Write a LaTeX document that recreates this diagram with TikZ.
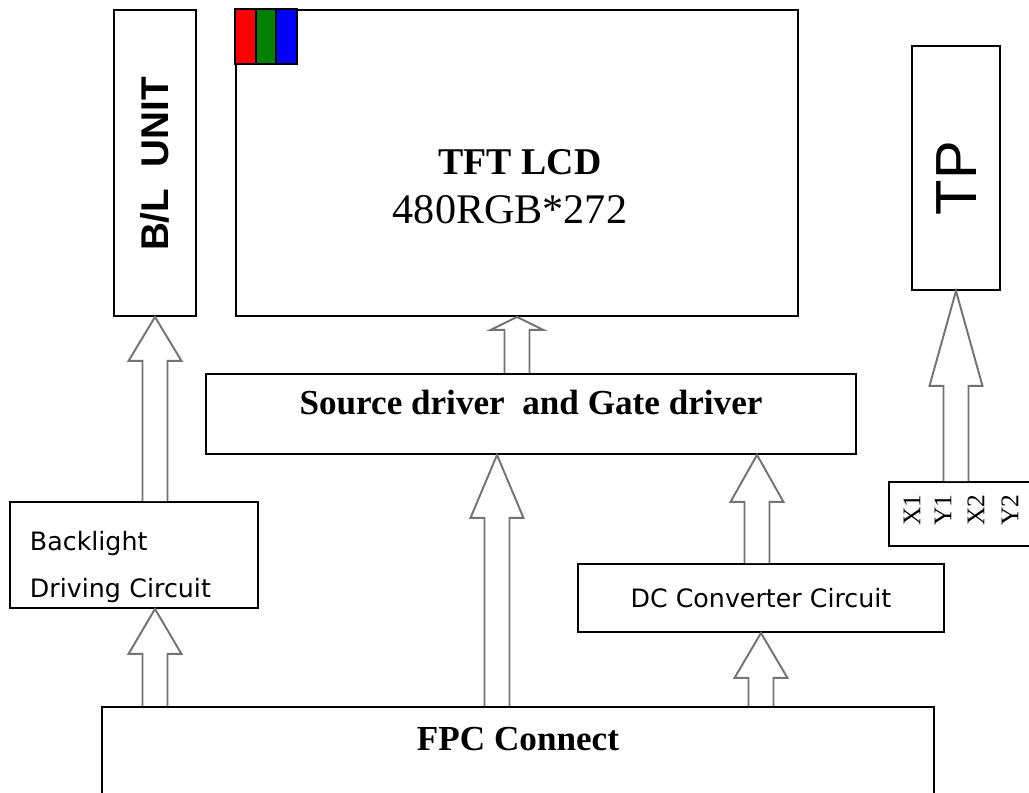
\documentclass[tikz,border=0pt]{standalone}
\usepackage{fontspec}
\setmainfont{Liberation Serif}
\newfontfamily\arialfont{Liberation Sans}
\newfontfamily\verdfont{DejaVu Sans}
\usetikzlibrary{calc,positioning}
\newcommand{\upx}{0.02cm}
\newcommand{\fatarrow}[3]{% head length (px), start, tip
  \draw[fat arrow] let \p1=(#2), \p2=(#3) in
    (\x1-12.5*\upx,\y1) -- (\x1-12.5*\upx,\y2-#1*\upx) -- (\x1-26.5*\upx,\y2-#1*\upx)
    -- (\x1,\y2) -- (\x1+26.5*\upx,\y2-#1*\upx) -- (\x1+12.5*\upx,\y2-#1*\upx)
    -- (\x1+12.5*\upx,\y1);
}

\begin{document}
\begin{tikzpicture}[x=0.02cm, y=-0.02cm,
    unit box/.style={rectangle, draw, line width=1.1pt, inner sep=0pt},
    fat arrow/.style={draw=black!55, line width=1.1pt, fill=white, line join=miter},
    serif title/.style={font=\bfseries\fontsize{20}{24}\selectfont},
    circuit text/.style={font=\verdfont\fontsize{14.4}{27}\selectfont}
]
    \useasboundingbox (0,0) rectangle (1029,793);
    \clip (0,0) rectangle (1029,793);

    % top row: backlight unit, panel, touch panel
    \node[unit box, minimum width=82*\upx, minimum height=306*\upx] (blunit) at (155,163) {};
    \node[font=\arialfont\bfseries\fontsize{22}{26}\selectfont, rotate=90] (bltext) at (155,164) {B/L\ \ UNIT};
    \node[unit box, minimum width=562*\upx, minimum height=306*\upx] (lcd) at (517,163) {};
    \foreach \c [count=\i from 0] in {red, green!50!black, blue}
        \draw[line width=1.1pt, fill=\c] ($(lcd.north west)+(\i*20.5,0)$) rectangle +(20.5,55);
    \node[font=\bfseries\fontsize{21.5}{24}\selectfont] (lcdtitle) at (520,162) {TFT LCD};
    \node[font=\fontsize{24}{28}\selectfont] (lcdres) at (510,210) {480RGB*272};
    \node[unit box, minimum width=88*\upx, minimum height=244*\upx] (tp) at (956,168) {};
    \node[font=\arialfont\fontsize{33}{36}\selectfont, rotate=90] (tptext) at (957,178) {TP};

    % drivers and circuits
    \node[unit box, serif title, minimum width=650*\upx, text height=0.82cm, text depth=0.78cm]
        (src) at (531,373) [anchor=north] {Source driver\ \ and Gate driver};
    \node[unit box, circuit text, minimum width=248*\upx, minimum height=106*\upx,
          text width=208*\upx, inner xsep=20*\upx, align=left] (bldrv) at (134,555)
        {\rule{0pt}{0.86cm}Backlight\\Driving Circuit};
    \node[unit box, circuit text, minimum width=366*\upx, minimum height=68*\upx] (dc) at (761,598)
        {DC Converter Circuit};
    \node[unit box, minimum width=151*\upx, minimum height=64*\upx] (xy) at (964.5,514) {};
    \foreach \t/\xp in {X1/912, Y1/943, X2/976, Y2/1010}
        \node[font=\fontsize{14.5}{16}\selectfont, rotate=90] (xy\t) at (\xp,510) {\t};

    % connector
    \node[unit box, serif title, minimum width=832*\upx, text height=0.88cm, text depth=2cm]
        (fpc) at (518,706) [anchor=north] {FPC Connect};

    % block arrows
    \coordinate (fpcsrc) at ($(fpc.north)+(-21,0)$);
    \coordinate (dcsrc) at ($(dc.north)+(-4,0)$);
    \fatarrow{44}{bldrv.north -| blunit.south}{blunit.south}
    \fatarrow{45}{fpc.north -| blunit.south}{bldrv.south -| blunit.south}
    \fatarrow{13}{src.north -| lcd.south}{lcd.south}
    \fatarrow{63}{fpcsrc}{src.south -| fpcsrc}
    \fatarrow{47}{dcsrc}{src.south -| dcsrc}
    \fatarrow{45}{fpc.north -| dc.south}{dc.south}
    \fatarrow{95}{xy.north -| tp.south}{tp.south}
\end{tikzpicture}
\end{document}
